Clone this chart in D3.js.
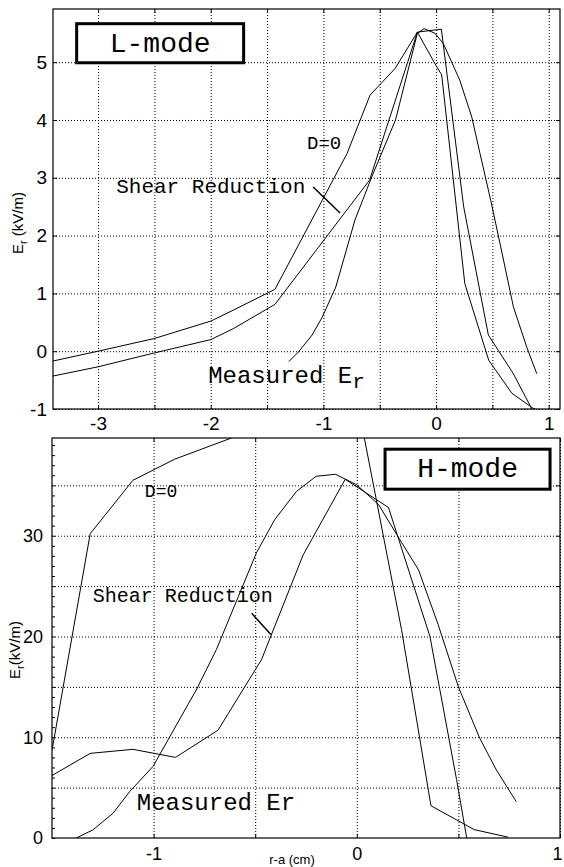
<!DOCTYPE html>
<html>
<head>
<meta charset="utf-8">
<script src="https://cdn.jsdelivr.net/npm/d3@7"></script>
<style>
  body { margin: 0; background: #fff; }
  svg { display: block; }
  .grid line { stroke: #000; stroke-width: 1; stroke-dasharray: 1,2; }
  .grid .domain { display: none; }
  .ticks .domain { display: none; }
  .ticks line { stroke: #000; }
  .ticks text { font-family: "Liberation Sans", Arial, sans-serif; fill: #000; }
  .note { font-family: "Liberation Mono", "Courier New", monospace; fill: #000; }
</style>
</head>
<body>
<div id="chart"></div>
<script>
// ---- L-mode panel (top): [r-a (cm), Er (kV/m)]
var lmodeD0 = [[-3.4,-0.17],[-3.0,0.0],[-2.5,0.22],[-2.0,0.52],[-1.8,0.71],[-1.43,1.07],
  [-0.79,3.42],[-0.586,4.43],[-0.364,4.89],[-0.166,5.52],[0.047,5.57],[0.245,2.5],
  [0.464,0.28],[0.686,-0.39],[0.85,-1.0]];
var lmodeShear = [[-3.4,-0.43],[-3.0,-0.27],[-2.5,-0.03],[-2.0,0.2],[-1.8,0.39],[-1.43,0.81],
  [-0.59,2.96],[-0.166,5.52],[0.006,4.92],[0.05,4.78],[0.255,1.17],[0.468,-0.16],
  [0.674,-0.73],[0.863,-0.99],[0.88,-1.0]];
var lmodeMeasured = [[-1.307,-0.18],[-1.22,-0.01],[-1.1,0.28],[-1.01,0.59],[-0.89,1.11],
  [-0.72,2.27],[-0.57,3.02],[-0.36,4.0],[-0.166,5.5],[-0.106,5.58],[-0.01,5.5],[0.065,5.32],
  [0.21,4.69],[0.317,4.05],[0.39,3.42],[0.485,2.61],[0.568,1.86],[0.686,0.77],[0.805,0.07],
  [0.894,-0.39]];
var lmodeXTicks = [-3, -2, -1, 0, 1];
var lmodeXGrid = [-3, -2.5, -2, -1.5, -1, -0.5, 0, 0.5, 1];
var lmodeYTicks = [-1, 0, 1, 2, 3, 4, 5];

// ---- H-mode panel (bottom)
var hmodeD0 = [[-1.5,8.7],[-1.312,30.2],[-1.102,35.5],[-0.896,37.6],[-0.617,39.7],[-0.3,42.5],
  [0.0,44.0],[0.039,39.5],[0.22,20.7],[0.365,3.2],[0.578,0.83],[0.745,0.08]];
var hmodeShear = [[-1.5,6.2],[-1.312,8.4],[-1.102,8.8],[-0.892,8.0],[-0.683,10.7],[-0.469,17.7],
  [-0.264,28.1],[-0.057,35.6],[0.156,32.8],[0.36,20.0],[0.491,5.8],[0.541,0.0]];
var hmodeMeasured = [[-1.381,0],[-1.299,0.8],[-1.2,2.45],[-1.118,4.6],[-1.003,7.1],[-0.888,11.2],
  [-0.79,14.7],[-0.691,18.7],[-0.494,28.3],[-0.404,31.6],[-0.297,34.4],[-0.2,35.9],[-0.105,36.1],
  [0.0,35.05],[0.107,33.1],[0.197,30.1],[0.304,26.6],[0.40,21.2],[0.5,15.0],[0.605,9.9],
  [0.687,6.75],[0.785,3.6]];
var hmodeXTicks = [-1, 0, 1];
var hmodeXGrid = [-1, -0.5, 0, 0.5, 1];
var hmodeYTicks = [0, 10, 20, 30];
var hmodeYGrid = [5, 10, 15, 20, 25, 30, 35];
var hmodeYMinor = d3.range(0, 40, 1);

var svg = d3.select("#chart").append("svg")
    .attr("width", 564)
    .attr("height", 867)
    .style("background", "#fff");

function drawPanel(p) {
  var w = p.right - p.left,
      h = p.bottom - p.top;

  var x = d3.scaleLinear().domain(p.xDomain).range([p.left, p.right]);
  var y = d3.scaleLinear().domain(p.yDomain).range([p.bottom, p.top]);

  svg.append("clipPath").attr("id", p.id)
    .append("rect")
      .attr("x", p.left).attr("y", p.top)
      .attr("width", w).attr("height", h);

  var g = svg.append("g");

  // dotted grid
  g.append("g").attr("class", "grid")
    .attr("transform", "translate(0," + p.bottom + ")")
    .call(d3.axisBottom(x).tickValues(p.xGrid).tickSize(-h).tickFormat(""));
  g.append("g").attr("class", "grid")
    .attr("transform", "translate(" + p.left + ",0)")
    .call(d3.axisLeft(y).tickValues(p.yGrid).tickSize(-w).tickFormat(""));

  // inward ticks on all four sides, labels on bottom and left
  var xAxis = g.append("g").attr("class", "ticks")
    .attr("transform", "translate(0," + p.bottom + ")")
    .call(d3.axisBottom(x).tickValues(p.xGrid).tickSize(-4)
      .tickFormat(function(d) { return p.xTicks.indexOf(d) >= 0 ? d : ""; })
      .tickPadding(p.xPad));
  xAxis.selectAll("text").style("font-size", p.fontSize + "px");
  // keep a label sitting on the right edge inside the page
  xAxis.selectAll("text")
    .filter(function(d) { return x(d) > 555; })
    .attr("dx", -3);

  g.append("g").attr("class", "ticks")
    .attr("transform", "translate(0," + p.top + ")")
    .call(d3.axisTop(x).tickValues(p.xGrid).tickSize(-4).tickFormat(""));
  g.append("g").attr("class", "ticks")
    .attr("transform", "translate(" + p.left + ",0)")
    .call(d3.axisLeft(y).tickValues(p.yMinor).tickSize(-p.minorLen)
      .tickFormat(function(d) { return p.yTicks.indexOf(d) >= 0 ? d : ""; })
      .tickPadding(p.yPad))
    .selectAll("text").style("font-size", p.fontSize + "px");
  g.append("g").attr("class", "ticks")
    .attr("transform", "translate(" + p.right + ",0)")
    .call(d3.axisRight(y).tickValues(p.yGrid).tickSize(-4).tickFormat(""));

  // curves
  var line = d3.line()
    .x(function(d) { return x(d[0]); })
    .y(function(d) { return y(d[1]); });

  g.selectAll("path.curve")
    .data(p.series)
    .enter().append("path")
      .attr("class", "curve")
      .attr("clip-path", "url(#" + p.id + ")")
      .attr("d", line)
      .style("fill", "none")
      .style("stroke", "#000")
      .style("stroke-width", 1);

  // frame
  g.append("rect")
    .attr("x", p.left).attr("y", p.top)
    .attr("width", w).attr("height", h)
    .style("fill", "none")
    .style("stroke", "#000")
    .style("stroke-width", 1.2);

  return {g: g, x: x, y: y};
}

// ---------- top panel ----------
var panelL = drawPanel({
  id: "clipL", left: 53, right: 560, top: 9, bottom: 409,
  xDomain: [-3.4, 1.1], yDomain: [-1, 5.92],
  xGrid: lmodeXGrid, xTicks: lmodeXTicks,
  yGrid: lmodeYTicks, yTicks: lmodeYTicks, yMinor: lmodeYTicks, minorLen: 4,
  xPad: 8, yPad: 6, fontSize: 19,
  series: [lmodeD0, lmodeShear, lmodeMeasured]
});

var tg = panelL.g, tx = panelL.x, ty = panelL.y;

// L-mode box
tg.append("rect")
  .attr("x", tx(-3.19)).attr("y", ty(5.666))
  .attr("width", tx(-1.708) - tx(-3.19))
  .attr("height", ty(4.99) - ty(5.666))
  .style("fill", "#fff").style("stroke", "#000").style("stroke-width", 3);
tg.append("text").attr("class", "note")
  .attr("x", (tx(-3.19) + tx(-1.708)) / 2).attr("y", ty(5.0) - 10)
  .attr("text-anchor", "middle")
  .style("font-size", "28px")
  .text("L-mode");

tg.append("text").attr("class", "note")
  .attr("x", tx(-1.145)).attr("y", ty(3.495))
  .style("font-size", "19px")
  .text("D=0");

tg.append("text").attr("class", "note")
  .attr("x", tx(-2.839)).attr("y", ty(2.734))
  .style("font-size", "21px")
  .text("Shear Reduction");

tg.append("line")
  .attr("x1", tx(-1.091)).attr("y1", ty(2.84))
  .attr("x2", tx(-0.852)).attr("y2", ty(2.39))
  .style("stroke", "#000").style("stroke-width", 1.5);

var mt = tg.append("text").attr("class", "note")
  .attr("x", tx(-2.023)).attr("y", ty(-0.554))
  .style("font-size", "24px");
mt.append("tspan").text("Measured E");
mt.append("tspan").attr("dy", 5).style("font-size", "21px").text("r");

// y axis label
var yl1 = svg.append("text")
  .attr("transform", "translate(23,223)rotate(-90)")
  .attr("text-anchor", "middle")
  .style("font-family", "'Liberation Sans', Arial, sans-serif")
  .style("font-size", "15px");
yl1.append("tspan").text("E");
yl1.append("tspan").attr("dy", 4).style("font-size", "11px").text("r");
yl1.append("tspan").attr("dy", -4).text(" (kV/m)");

// ---------- bottom panel ----------
var panelH = drawPanel({
  id: "clipH", left: 52, right: 560, top: 438, bottom: 838,
  xDomain: [-1.5, 1], yDomain: [0, 39.7],
  xGrid: hmodeXGrid, xTicks: hmodeXTicks,
  yGrid: hmodeYGrid, yTicks: hmodeYTicks, yMinor: hmodeYMinor, minorLen: 3,
  xPad: 9, yPad: 9, fontSize: 18,
  series: [hmodeD0, hmodeShear, hmodeMeasured]
});

var bg = panelH.g, bx = panelH.x, by = panelH.y;

bg.append("rect")
  .attr("x", bx(0.139)).attr("y", by(38.59))
  .attr("width", bx(0.951) - bx(0.139))
  .attr("height", by(34.62) - by(38.59))
  .style("fill", "#fff").style("stroke", "#000").style("stroke-width", 3);
bg.append("text").attr("class", "note")
  .attr("x", (bx(0.139) + bx(0.951)) / 2).attr("y", by(34.62) - 12)
  .attr("text-anchor", "middle")
  .style("font-size", "28px")
  .text("H-mode");

bg.append("text").attr("class", "note")
  .attr("x", bx(-1.043)).attr("y", by(33.8))
  .style("font-size", "18px")
  .text("D=0");

bg.append("text").attr("class", "note")
  .attr("x", bx(-1.299)).attr("y", by(23.4))
  .style("font-size", "20px")
  .text("Shear Reduction");

bg.append("line")
  .attr("x1", bx(-0.517)).attr("y1", by(22.3))
  .attr("x2", bx(-0.423)).attr("y2", by(20.2))
  .style("stroke", "#000").style("stroke-width", 1.5);

bg.append("text").attr("class", "note")
  .attr("x", bx(-1.083)).attr("y", by(2.78))
  .style("font-size", "24px")
  .text("Measured Er");

var yl2 = svg.append("text")
  .attr("transform", "translate(20,650)rotate(-90)")
  .attr("text-anchor", "middle")
  .style("font-family", "'Liberation Sans', Arial, sans-serif")
  .style("font-size", "15px");
yl2.append("tspan").text("E");
yl2.append("tspan").attr("dy", 4).style("font-size", "11px").text("r");
yl2.append("tspan").attr("dy", -4).text("(kV/m)");

svg.append("text")
  .attr("x", 292).attr("y", 864)
  .attr("text-anchor", "middle")
  .style("font-family", "'Liberation Sans', Arial, sans-serif")
  .style("font-size", "13px")
  .text("r-a (cm)");
</script>
</body>
</html>
